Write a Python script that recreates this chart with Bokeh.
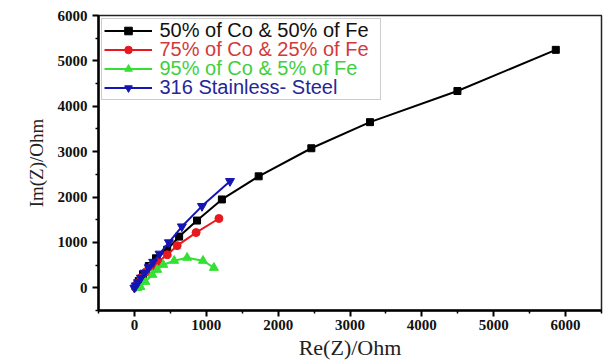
from bokeh.plotting import figure
from bokeh.models import Range1d, Legend, LegendItem, Label, FixedTicker
from bokeh.embed import file_html
from bokeh.resources import INLINE

# ---- data ----
names = ["50% of Co & 50% of Fe", "75% of Co & 25% of Fe",
         "95% of Co & 5% of Fe", "316 Stainless- Steel"]

re_5050 = [20, 60, 120, 200, 300, 456, 622, 871, 1217, 1729, 2462, 3278, 4495, 5864]
im_5050 = [30, 150, 300, 480, 650, 841, 1128, 1482, 1947, 2456, 3075, 3650, 4336, 5243]

re_7525 = [10, 40, 90, 160, 240, 332, 456, 595, 858, 1176]
im_7525 = [10, 100, 220, 350, 470, 575, 730, 929, 1217, 1527]

re_955 = [40, 83, 152, 249, 318, 401, 553, 733, 954, 1106]
im_955 = [0, 22, 133, 288, 398, 509, 597, 664, 597, 442]

re_ss = [0, 20, 50, 90, 140, 200, 260, 350, 480, 660, 940, 1330]
im_ss = [0, 50, 120, 220, 330, 450, 570, 750, 1000, 1350, 1800, 2350]

x_ticks = [0, 1000, 2000, 3000, 4000, 5000, 6000]
y_ticks = [0, 1000, 2000, 3000, 4000, 5000, 6000]

series = [
    (re_5050, im_5050, "#000000", "square", 7, "#111111"),
    (re_7525, im_7525, "#e8191e", "circle", 8, "#d23a3a"),
    (re_955, im_955, "#33e033", "triangle", 9, "#3fcf3f"),
    (re_ss, im_ss, "#1515b5", "inverted_triangle", 9, "#26269a"),
]

X0, X1, Y0, Y1 = -500, 6500, -500, 6000
W, H = 603, 363
BL, BR, BT, BB = 98, 2, 15, 53

p = figure(width=W, height=H, output_backend="svg", toolbar_location=None,
           x_range=Range1d(X0, X1), y_range=Range1d(Y0, Y1),
           min_border_left=BL, min_border_right=BR, min_border_top=BT,
           min_border_bottom=BB)
p.xgrid.visible = False
p.ygrid.visible = False
p.background_fill_color = "white"
p.border_fill_color = "white"
p.outline_line_color = "#222222"
p.outline_line_width = 1.5

items = []
for (xs, ys, col, mk, sz, tcol), nm in zip(series, names):
    r1 = p.line(xs, ys, line_color=col, line_width=2)
    r2 = p.scatter(xs, ys, marker=mk, size=sz, fill_color=col, line_color=col)
    items.append(LegendItem(label=nm, renderers=[r1, r2]))

for ax, ticks in ((p.xaxis[0], x_ticks), (p.yaxis[0], y_ticks)):
    ax.ticker = FixedTicker(ticks=ticks,
                            minor_ticks=[t + 500 for t in [-1000] + ticks])
    ax.axis_line_width = 2.5
    ax.axis_line_color = "black"
    ax.major_tick_in = 0
    ax.major_tick_out = 6
    ax.minor_tick_in = 0
    ax.minor_tick_out = 3
    ax.major_tick_line_width = 2
    ax.minor_tick_line_width = 1.5
    ax.major_label_text_font = "Liberation Serif"
    ax.major_label_text_font_style = "bold"
    ax.major_label_text_font_size = "15px"
    ax.major_label_text_color = "#111111"
    ax.axis_label_text_font = "Liberation Serif"
    ax.axis_label_text_font_style = "normal"
    ax.axis_label_text_color = "#222222"

p.xaxis.axis_label = "Re(Z)/Ohm"
p.yaxis.axis_label = "Im(Z)/Ohm"
p.xaxis.axis_label_text_font_size = "22px"
p.yaxis.axis_label_text_font_size = "19px"
p.xaxis.major_label_standoff = 3
p.yaxis.major_label_standoff = 5
p.xaxis.axis_label_standoff = 2
p.yaxis.axis_label_standoff = 8

# legend (box + glyphs), text drawn separately in each series' colour
M, PAD, GW, STAND, LH, FS = 3, 2, 48, 8, 19, 20
leg = Legend(items=items, location="top_left", margin=M, padding=PAD,
             spacing=0, glyph_width=GW, glyph_height=LH, label_height=LH,
             label_width=218, label_standoff=STAND,
             label_text_font="Liberation Sans", label_text_font_size="13px",
             label_text_alpha=0,
             border_line_color="#999999", border_line_width=1,
             background_fill_alpha=0)
p.add_layout(leg)

fw = W - BL - BR
fh = H - BT - BB
for i, (nm, s) in enumerate(zip(names, series)):
    sx = M + PAD + GW + STAND
    sy = M + PAD + i * LH + LH / 2
    p.add_layout(Label(x=X0 + sx * (X1 - X0) / fw,
                       y=Y1 - sy * (Y1 - Y0) / fh,
                       text=nm, text_color=s[5], text_font="Liberation Sans",
                       text_font_size=f"{FS}px", text_baseline="middle",
                       text_align="left"))

open("out.html", "w").write(file_html(p, INLINE))
